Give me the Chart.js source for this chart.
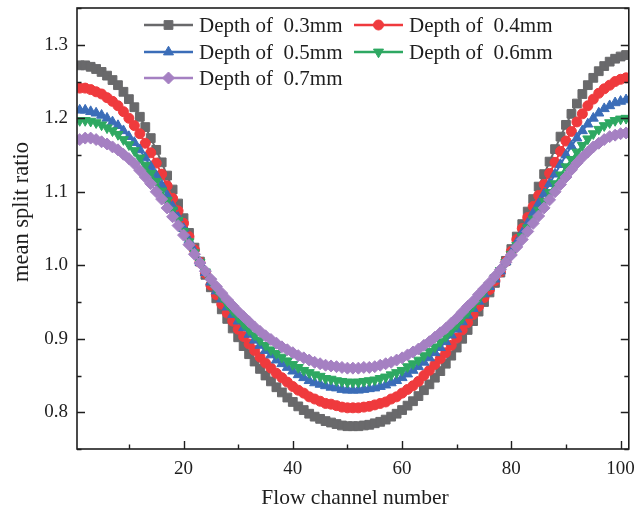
<!DOCTYPE html>
<html><head><meta charset="utf-8">
<script src="https://cdn.jsdelivr.net/npm/chart.js@4.4.1/dist/chart.umd.min.js"></script>
<style>html,body{margin:0;padding:0;background:#fff}#wrap{width:636px;height:512px}</style>
</head><body><div id="wrap"><canvas id="c" width="636" height="512"></canvas></div>
<script>
const channels = [1,2,3,4,5,6,7,8,9,10,11,12,13,14,15,16,17,18,19,20,21,22,23,24,25,26,27,28,29,30,31,32,33,34,35,36,37,38,39,40,41,42,43,44,45,46,47,48,49,50,51,52,53,54,55,56,57,58,59,60,61,62,63,64,65,66,67,68,69,70,71,72,73,74,75,76,77,78,79,80,81,82,83,84,85,86,87,88,89,90,91,92,93,94,95,96,97,98,99,100,101];

const depth03 = [1.272,1.272,1.270,1.267,1.263,1.258,1.252,1.245,1.236,1.226,1.215,1.202,1.188,1.173,1.157,1.140,1.122,1.103,1.084,1.064,1.044,1.024,1.005,0.987,0.970,0.955,0.940,0.927,0.914,0.902,0.890,0.879,0.869,0.859,0.850,0.842,0.834,0.827,0.820,0.814,0.808,0.803,0.798,0.794,0.791,0.788,0.786,0.784,0.782,0.781,0.781,0.781,0.782,0.783,0.785,0.787,0.790,0.794,0.798,0.803,0.809,0.815,0.822,0.830,0.838,0.847,0.856,0.866,0.877,0.888,0.900,0.912,0.924,0.937,0.950,0.963,0.976,0.990,1.006,1.022,1.039,1.056,1.073,1.090,1.107,1.124,1.141,1.158,1.175,1.191,1.206,1.220,1.233,1.245,1.255,1.264,1.271,1.277,1.281,1.284,1.286];

const depth04 = [1.241,1.241,1.239,1.236,1.233,1.228,1.223,1.217,1.209,1.200,1.190,1.179,1.166,1.153,1.139,1.124,1.108,1.091,1.074,1.057,1.039,1.021,1.004,0.989,0.973,0.960,0.947,0.935,0.924,0.913,0.903,0.893,0.884,0.875,0.867,0.860,0.853,0.847,0.841,0.835,0.830,0.826,0.821,0.818,0.815,0.812,0.811,0.809,0.807,0.806,0.806,0.806,0.807,0.808,0.810,0.812,0.814,0.818,0.821,0.826,0.831,0.836,0.842,0.850,0.857,0.865,0.873,0.881,0.891,0.901,0.912,0.922,0.933,0.944,0.956,0.967,0.979,0.991,1.005,1.019,1.035,1.050,1.065,1.080,1.095,1.110,1.125,1.140,1.155,1.169,1.182,1.195,1.206,1.217,1.226,1.234,1.240,1.245,1.250,1.253,1.255];

const depth05 = [1.211,1.211,1.209,1.207,1.204,1.200,1.195,1.190,1.183,1.175,1.167,1.157,1.146,1.134,1.122,1.109,1.095,1.080,1.065,1.050,1.034,1.019,1.004,0.990,0.977,0.965,0.954,0.943,0.933,0.924,0.915,0.906,0.898,0.891,0.884,0.878,0.871,0.866,0.861,0.856,0.851,0.847,0.843,0.840,0.838,0.836,0.834,0.833,0.831,0.830,0.830,0.830,0.831,0.832,0.833,0.835,0.837,0.840,0.843,0.847,0.852,0.857,0.862,0.868,0.874,0.881,0.888,0.896,0.905,0.913,0.923,0.932,0.941,0.951,0.961,0.971,0.981,0.992,1.005,1.017,1.031,1.044,1.057,1.071,1.084,1.097,1.111,1.124,1.137,1.150,1.162,1.173,1.183,1.192,1.200,1.207,1.213,1.217,1.221,1.223,1.225];

const depth06 = [1.197,1.197,1.196,1.194,1.191,1.187,1.183,1.178,1.171,1.164,1.156,1.146,1.136,1.125,1.114,1.101,1.088,1.075,1.061,1.046,1.032,1.017,1.004,0.991,0.978,0.967,0.957,0.947,0.938,0.929,0.920,0.912,0.905,0.898,0.891,0.885,0.880,0.875,0.870,0.865,0.861,0.857,0.854,0.851,0.849,0.846,0.845,0.843,0.842,0.841,0.841,0.841,0.842,0.843,0.844,0.846,0.848,0.851,0.854,0.857,0.862,0.866,0.871,0.877,0.883,0.889,0.896,0.903,0.911,0.919,0.928,0.936,0.945,0.954,0.964,0.973,0.983,0.993,1.004,1.015,1.027,1.039,1.051,1.063,1.075,1.087,1.099,1.111,1.123,1.134,1.144,1.154,1.163,1.172,1.179,1.185,1.190,1.194,1.197,1.199,1.200];

const depth07 = [1.171,1.173,1.173,1.171,1.168,1.165,1.161,1.157,1.151,1.145,1.138,1.129,1.120,1.111,1.100,1.090,1.078,1.066,1.054,1.041,1.028,1.015,1.003,0.992,0.981,0.971,0.962,0.953,0.945,0.937,0.930,0.923,0.916,0.910,0.904,0.899,0.894,0.889,0.885,0.881,0.877,0.874,0.871,0.868,0.866,0.864,0.863,0.862,0.861,0.860,0.860,0.860,0.861,0.861,0.862,0.864,0.866,0.868,0.871,0.874,0.878,0.882,0.886,0.891,0.896,0.902,0.908,0.914,0.921,0.928,0.936,0.944,0.951,0.960,0.968,0.976,0.985,0.994,1.004,1.014,1.025,1.035,1.046,1.057,1.067,1.078,1.089,1.100,1.110,1.120,1.130,1.139,1.147,1.154,1.161,1.166,1.171,1.175,1.177,1.179,1.180];

const seriesNames = ['Depth of  0.3mm','Depth of  0.4mm','Depth of  0.5mm','Depth of  0.6mm','Depth of  0.7mm'];
const xTicks = [20,40,60,80,100];
const xMinorTicks = [10,30,50,70,90];
const yTicks = [0.8,0.9,1.0,1.1,1.2,1.3];
const yMinorTicks = [0.75,0.85,0.95,1.05,1.15,1.25,1.35];

const colors = ['#69696b','#ef3a3d','#3b6db8','#2ea862','#a580c2'];
const styles = [
  {pointStyle:'rect', r:6.2, rot:0},
  {pointStyle:'circle', r:5.0, rot:0},
  {pointStyle:'triangle', r:5.8, rot:0},
  {pointStyle:'triangle', r:5.8, rot:180},
  {pointStyle:'rectRot', r:6.0, rot:0}
];
const allSeries = [depth03, depth04, depth05, depth06, depth07];
const FONT = "'Liberation Serif','Times New Roman',serif";
const INK = '#1e1e1e';

const datasets = allSeries.map((vals, i) => ({
  label: seriesNames[i],
  data: channels.map((c, j) => ({x: c, y: vals[j]})),
  borderColor: colors[i],
  backgroundColor: colors[i],
  borderWidth: 2,
  pointStyle: styles[i].pointStyle,
  pointRadius: styles[i].r,
  pointRotation: styles[i].rot,
  pointBorderWidth: 1,
  pointBackgroundColor: colors[i],
  pointBorderColor: colors[i],
  tension: 0,
  order: 4 - i,
  clip: 0
}));

const framePlugin = {
  id: 'frame',
  afterDraw(chart) {
    const {ctx, chartArea: {left, top, right, bottom}, scales: {x, y}} = chart;
    ctx.save();
    ctx.strokeStyle = INK;
    ctx.lineWidth = 1.6;
    ctx.strokeRect(left, top, right - left, bottom - top);
    ctx.lineWidth = 1.4;
    ctx.beginPath();
    xTicks.forEach(v => { const p = Math.round(x.getPixelForValue(v)) + 0.5; ctx.moveTo(p, bottom); ctx.lineTo(p, bottom - 8); });
    xMinorTicks.forEach(v => { const p = Math.round(x.getPixelForValue(v)) + 0.5; ctx.moveTo(p, bottom); ctx.lineTo(p, bottom - 4.5); });
    yTicks.forEach(v => { const p = Math.round(y.getPixelForValue(v)) + 0.5; ctx.moveTo(left, p); ctx.lineTo(left + 8, p); ctx.moveTo(right, p); ctx.lineTo(right - 8, p); });
    yMinorTicks.forEach(v => { const p = Math.round(y.getPixelForValue(v)) + 0.5; ctx.moveTo(left, p); ctx.lineTo(left + 4.5, p); ctx.moveTo(right, p); ctx.lineTo(right - 4.5, p); });
    ctx.stroke();

    // axis titles
    ctx.fillStyle = INK;
    ctx.textAlign = 'center';
    ctx.textBaseline = 'middle';
    ctx.font = '21.5px ' + FONT;
    ctx.fillText('Flow channel number', 355, 498);
    ctx.save();
    ctx.font = '22.5px ' + FONT;
    ctx.translate(22, 212);
    ctx.rotate(-Math.PI / 2);
    ctx.fillText('mean split ratio', 0, 0);
    ctx.restore();

    // legend
    const cols = [{x0: 144, x1: 193, tx: 199}, {x0: 354, x1: 403, tx: 409}];
    const rows = [25, 52, 78];
    ctx.font = '21px ' + FONT;
    ctx.textAlign = 'left';
    seriesNames.forEach((name, i) => {
      const c = cols[i % 2], ry = rows[Math.floor(i / 2)];
      ctx.strokeStyle = colors[i];
      ctx.lineWidth = 2.5;
      ctx.beginPath(); ctx.moveTo(c.x0, ry); ctx.lineTo(c.x1, ry); ctx.stroke();
      ctx.fillStyle = colors[i];
      ctx.strokeStyle = colors[i];
      ctx.lineWidth = 1;
      Chart.helpers.drawPoint(ctx, {pointStyle: styles[i].pointStyle, radius: styles[i].r, rotation: styles[i].rot, borderWidth: 1}, (c.x0 + c.x1) / 2, ry);
      ctx.fillStyle = INK;
      ctx.fillText(name, c.tx, ry + 1);
    });
    ctx.restore();
  }
};

new Chart(document.getElementById('c'), {
  type: 'line',
  data: {datasets},
  options: {
    responsive: false,
    animation: false,
    devicePixelRatio: 1,
    layout: {padding: {top: 8, right: 6, left: 0, bottom: 0}},
    plugins: {legend: {display: false}, tooltip: {enabled: false}},
    scales: {
      x: {
        type: 'linear', min: 0.5, max: 101.5,
        grid: {display: false, drawTicks: false},
        border: {display: false},
        afterBuildTicks: s => { s.ticks = xTicks.map(v => ({value: v})); },
        afterFit: s => { s.height = 63; s.paddingLeft = 0; s.paddingRight = 0; },
        ticks: {color: INK, font: {family: FONT, size: 19}, padding: 9, maxRotation: 0, autoSkip: false}
      },
      y: {
        type: 'linear', min: 0.75, max: 1.35,
        grid: {display: false, drawTicks: false},
        border: {display: false},
        afterBuildTicks: s => { s.ticks = yTicks.map(v => ({value: v})); },
        afterFit: s => { s.width = 77; s.paddingTop = 0; s.paddingBottom = 0; },
        ticks: {color: INK, font: {family: FONT, size: 19}, padding: 9, callback: v => v.toFixed(1)}
      }
    }
  },
  plugins: [framePlugin]
});
</script></body></html>
